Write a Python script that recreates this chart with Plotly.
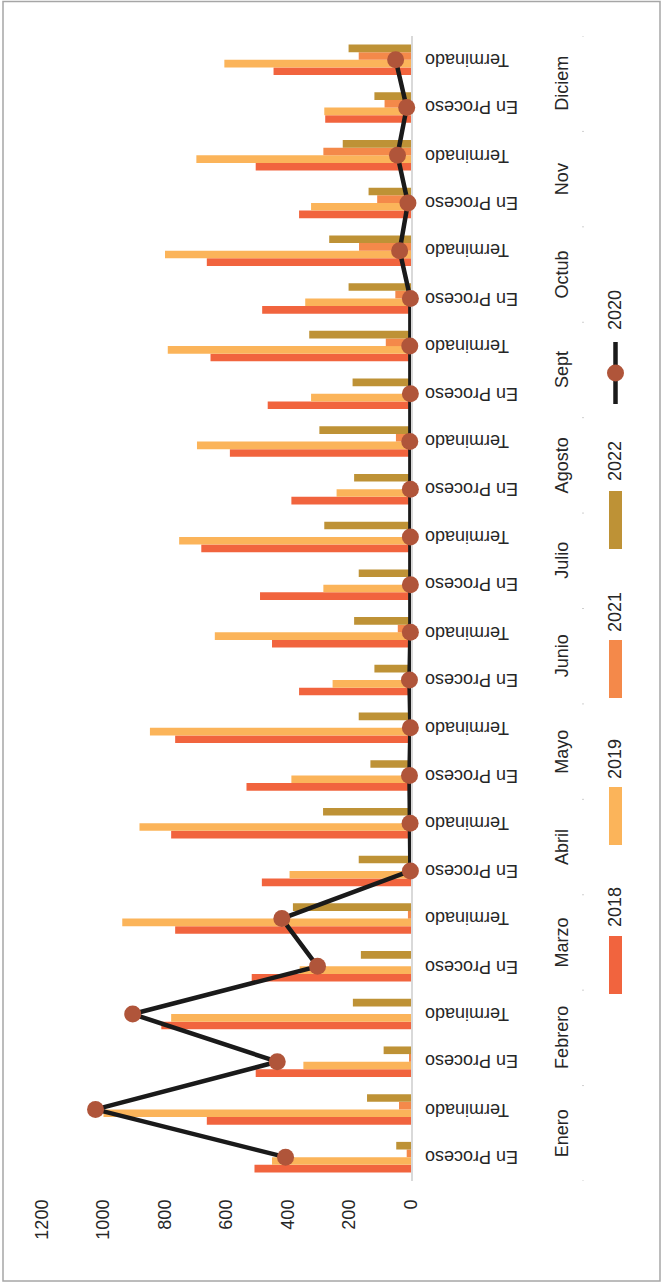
import plotly.graph_objects as go

months = ["Enero", "Febrero", "Marzo", "Abril", "Mayo", "Junio",
          "Julio", "Agosto", "Sept", "Octub", "Nov", "Diciem"]
stages = ["En Proceso", "Terminado"]

v2018 = [509, 664, 505, 812, 518, 767, 485, 780, 535, 767, 364, 452,
         491, 682, 389, 589, 466, 652, 484, 664, 364, 505, 279, 447]
v2019 = [452, 1000, 350, 780, 362, 939, 395, 883, 389, 849, 255, 638,
         285, 754, 242, 696, 325, 791, 344, 800, 325, 698, 282, 607]
v2021 = [14, 39, 5, 0, 0, 10, 0, 0, 0, 0, 0, 43,
         0, 0, 0, 49, 0, 82, 51, 169, 110, 285, 86, 170]
v2022 = [48, 143, 89, 189, 163, 384, 170, 286, 132, 170, 119, 185,
         170, 282, 185, 298, 190, 331, 203, 266, 138, 222, 119, 203]
v2020 = [408, 1026, 435, 905, 304, 420, 2, 3, 5, 2, 5, 2,
         2, 2, 2, 4, 2, 4, 2, 37, 10, 44, 14, 50]
value_ticks = [0, 200, 400, 600, 800, 1000, 1200]

C2018, C2019, C2021, C2022 = "#F1643E", "#FBB45A", "#F4894A", "#BE9236"
CLINE, CMARK = "#1A1A1A", "#B0553A"
TXT = "#262626"
FONT = "Liberation Sans, Arial, sans-serif"

FW, FH = 662, 1283
L, R, T, B = 42, 411, 36, 1181

def px_x(p):
    return (p - L) / (R - L)

def px_y(p):
    return (B - p) / (B - T)

cats = list(range(len(months) * len(stages)))
labels = [s for _ in months for s in stages]

fig = go.Figure()
for name, vals, col in [("2018", v2018, C2018), ("2019", v2019, C2019),
                        ("2021", v2021, C2021), ("2022", v2022, C2022)]:
    fig.add_trace(go.Bar(x=vals, y=cats, orientation="h", name=name,
                         marker=dict(color=col, line=dict(width=0)),
                         showlegend=False))
fig.add_trace(go.Scatter(x=v2020, y=cats, mode="lines+markers", name="2020",
                         line=dict(color=CLINE, width=4.5),
                         marker=dict(color=CMARK, size=17, line=dict(width=0)),
                         showlegend=False, cliponaxis=False))

annotations = []
shapes = []
# sub-category labels (upside down, as in the reference)
for c, lab in zip(cats, labels):
    annotations.append(dict(text=lab, x=px_x(423), xref="paper", y=c, yref="y",
                            xanchor="left", yanchor="middle",
                            showarrow=False, textangle=180,
                            font=dict(size=18, color=TXT, family=FONT)))
# month labels
for i, m in enumerate(months):
    annotations.append(dict(text=m, x=px_x(562), xref="paper", y=2 * i + 0.5, yref="y",
                            xanchor="center", yanchor="middle",
                            showarrow=False, textangle=-90,
                            font=dict(size=18, color=TXT, family=FONT)))
# month separators
for i in range(len(months) + 1):
    shapes.append(dict(type="line", xref="paper", yref="y",
                       x0=px_x(582), x1=px_x(584), y0=2 * i - 0.5, y1=2 * i - 0.5,
                       line=dict(color="#D0D0D0", width=1)))

# custom rotated legend
legend_items = [("2018", C2018, 936, 994, 907), ("2019", C2019, 787, 845, 759),
                ("2021", C2021, 640, 698, 612), ("2022", C2022, 491, 549, 461)]
for name, col, y0, y1, ty in legend_items:
    shapes.append(dict(type="rect", xref="paper", yref="paper",
                       x0=px_x(609), x1=px_x(622), y0=px_y(y1), y1=px_y(y0),
                       fillcolor=col, line=dict(width=0)))
    annotations.append(dict(text=name, x=px_x(615), xref="paper", y=px_y(ty), yref="paper",
                            xanchor="center", yanchor="middle",
                            showarrow=False, textangle=-90,
                            font=dict(size=18, color=TXT, family=FONT)))
shapes.append(dict(type="line", xref="paper", yref="paper",
                   x0=px_x(615.5), x1=px_x(615.5), y0=px_y(404), y1=px_y(342),
                   line=dict(color=CLINE, width=4.5)))
shapes.append(dict(type="circle", xref="paper", yref="paper",
                   x0=px_x(607), x1=px_x(624), y0=px_y(381.5), y1=px_y(364.5),
                   fillcolor=CMARK, line=dict(width=0)))
annotations.append(dict(text="2020", x=px_x(615), xref="paper", y=px_y(310), yref="paper",
                        xanchor="center", yanchor="middle",
                        showarrow=False, textangle=-90,
                        font=dict(size=18, color=TXT, family=FONT)))
# outer frame
shapes.append(dict(type="rect", xref="paper", yref="paper",
                   x0=px_x(3), x1=px_x(660), y0=px_y(1281), y1=px_y(1.5),
                   line=dict(color="#A6A6A6", width=1.5), fillcolor="rgba(0,0,0,0)"))

fig.update_layout(
    width=FW, height=FH, autosize=False,
    margin=dict(l=L, r=FW - R, t=T, b=FH - B, pad=0),
    paper_bgcolor="white", plot_bgcolor="white",
    barmode="group", bargap=0.36, bargroupgap=0,
    font=dict(family=FONT, size=18, color=TXT),
    showlegend=False,
    annotations=annotations, shapes=shapes,
    xaxis=dict(range=[1200, 0], tickvals=value_ticks, ticktext=[str(v) for v in value_ticks],
               tickangle=-90, showgrid=False, zeroline=False, showline=False,
               ticks="", ticklabelstandoff=14, automargin=False,
               tickfont=dict(size=18, color=TXT, family=FONT)),
    yaxis=dict(range=[-0.5, 23.5], tickvals=cats, showticklabels=False, side="right",
               showgrid=False, zeroline=False, showline=True,
               linecolor="#D9D9D9", linewidth=2, ticks="",
               automargin=False, layer="below traces"),
)

fig.write_html("out.html")
